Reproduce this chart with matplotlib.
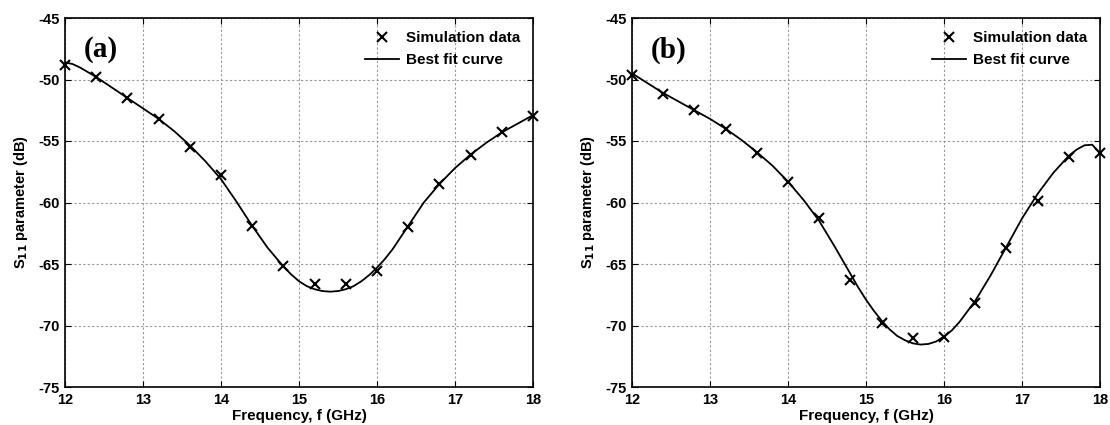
import matplotlib
matplotlib.use('Agg')
import matplotlib.pyplot as plt
import numpy as np

# simulation points (GHz, dB)
sim_f = [12.0, 12.4, 12.8, 13.2, 13.6, 14.0, 14.4, 14.8, 15.2, 15.6, 16.0, 16.4, 16.8, 17.2, 17.6, 18.0]
sim_a = [-48.8, -49.8, -51.5, -53.2, -55.5, -57.8, -61.9, -65.2, -66.6, -66.6, -65.6, -62.0, -58.5, -56.1, -54.3, -53.0]
sim_b = [-49.6, -51.2, -52.5, -54.0, -56.0, -58.3, -61.3, -66.3, -69.8, -71.0, -70.9, -68.2, -63.7, -59.9, -56.3, -56.0]

# best fit curves
fit_f = [12.0, 12.1, 12.2, 12.4, 12.6, 12.8, 13.0, 13.2, 13.4, 13.6, 13.8, 14.0, 14.2, 14.4, 14.6, 14.8,
         14.9, 15.0, 15.1, 15.2, 15.3, 15.4, 15.5, 15.6, 15.7, 15.8, 15.9, 16.0, 16.1, 16.2, 16.4, 16.6,
         16.8, 17.0, 17.2, 17.4, 17.6, 17.7, 17.8, 17.9, 18.0]
fit_a = [-48.6, -48.75, -49.05, -49.8, -50.65, -51.5, -52.35, -53.2, -54.2, -55.35, -56.65, -58.1, -59.95, -61.9, -63.7, -65.2,
         -65.85, -66.4, -66.8, -67.05, -67.2, -67.25, -67.2, -67.05, -66.8, -66.4, -65.9, -65.3, -64.6, -63.8, -61.9, -60.0,
         -58.5, -57.2, -56.1, -55.15, -54.3, -53.95, -53.6, -53.25, -52.9]
fit_b = [-49.5, -49.9, -50.3, -51.1, -51.8, -52.5, -53.2, -54.0, -54.9, -55.9, -57.0, -58.3, -59.8, -61.5, -63.6, -65.8,
         -66.9, -67.9, -68.8, -69.6, -70.3, -70.85, -71.2, -71.45, -71.55, -71.5, -71.3, -70.9, -70.4, -69.7, -68.0, -65.9,
         -63.6, -61.3, -59.3, -57.6, -56.2, -55.7, -55.35, -55.3, -56.0]

panels = [('(a)', sim_a, fit_a), ('(b)', sim_b, fit_b)]
x_ticks = [12, 13, 14, 15, 16, 17, 18]
y_ticks = [-75, -70, -65, -60, -55, -50, -45]

plt.rcParams['font.family'] = ['Liberation Sans', 'DejaVu Sans']
plt.rcParams['font.weight'] = 'bold'
plt.rcParams['axes.unicode_minus'] = False
plt.rcParams['mathtext.default'] = 'bf'

fig = plt.figure(figsize=(11.1, 4.25), dpi=100)
lefts = [65 / 1110, 632 / 1110]

for left, (tag, sim, fit) in zip(lefts, panels):
    ax = fig.add_axes([left, 38 / 425, 468 / 1110, 369 / 425])
    ax.plot(fit_f, fit, color='black', lw=1.3, label='Best fit curve', zorder=3)
    ax.plot(sim_f, sim, 'x', color='black', ms=6.5, mew=1.5, label='Simulation data', zorder=4,
            clip_on=False)
    ax.set_xlim(12, 18)
    ax.set_ylim(-75, -45)
    ax.set_xticks(x_ticks)
    ax.set_yticks(y_ticks)
    ax.tick_params(direction='in', top=True, right=True, length=4, width=0.8,
                   labelsize=10.5, pad=4)
    for lab in ax.get_xticklabels() + ax.get_yticklabels():
        lab.set_fontweight('bold')
    ax.grid(True, linestyle=(0, (2, 2)), color='#999999', lw=0.8)
    for s in ax.spines.values():
        s.set_linewidth(1.2)
    ax.set_xlabel('Frequency, f (GHz)', fontsize=11, fontweight='bold', labelpad=2)
    ax.set_ylabel(r'S$_{11}$ parameter (dB)', fontsize=10.5, fontweight='bold', labelpad=6)
    ax.text(0.04, 0.95, tag, transform=ax.transAxes, fontsize=21, fontweight='bold',
            family='Liberation Serif', va='top', ha='left')
    h, l = ax.get_legend_handles_labels()
    leg = ax.legend(h[::-1], l[::-1], loc='upper right', frameon=False, fontsize=11,
                    handlelength=2.2, handletextpad=0.45, labelspacing=0.55,
                    borderaxespad=0.35, borderpad=0.5)
    for t in leg.get_texts():
        t.set_fontweight('bold')

fig.savefig('out.png', dpi=100)
